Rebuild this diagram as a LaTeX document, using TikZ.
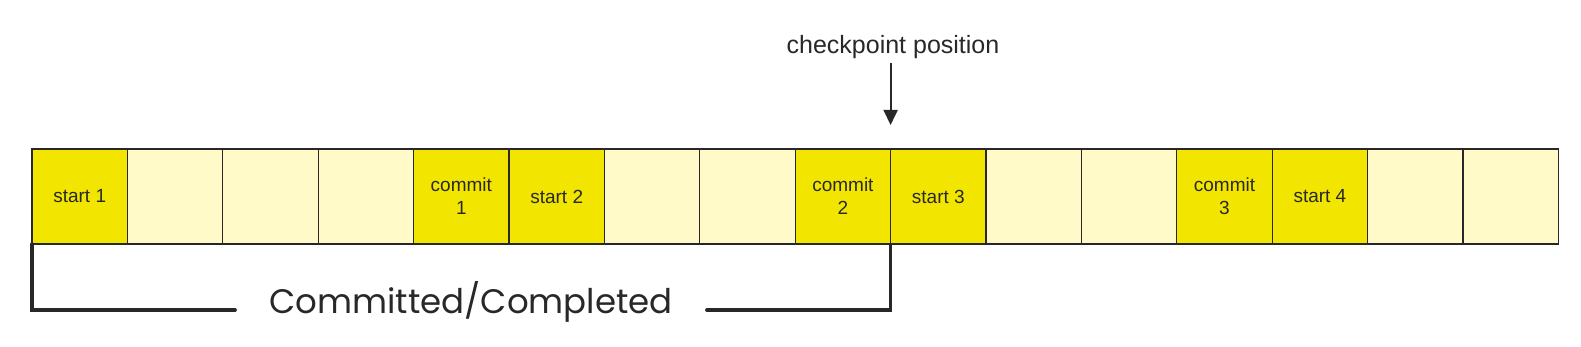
\documentclass[tikz,border=0pt]{standalone}
\usepackage{fontspec}
\setmainfont{Liberation Sans}
\newfontfamily\handfont{Poppins}
\usetikzlibrary{arrows.meta,positioning,calc}
\definecolor{slotyellow}{RGB}{242,230,0}
\definecolor{slotpale}{RGB}{255,250,200}
\definecolor{inkgray}{RGB}{40,40,40}
\tikzset{
  cell/.style={rectangle, draw=inkgray, line width=1.2pt, outer sep=0pt, inner sep=0pt,
    minimum width=95.4pt, minimum height=95pt, align=center,
    font=\fontsize{19}{23}\selectfont, text=inkgray},
  hotcell/.style={cell, fill=slotyellow},
  coldcell/.style={cell, fill=slotpale},
  pointer/.style={-{Triangle[length=15pt,width=14pt]}, line width=1.8pt, inkgray},
  bracket/.style={line width=3.5pt, inkgray, line cap=round},
}

\begin{document}
\begin{tikzpicture}[x=1pt, y=1pt]
  \useasboundingbox (0,0) rectangle (1581,346);

  % Log slots
  \foreach \i/\txt/\kind in {1/start 1/hotcell, 2//coldcell, 3//coldcell, 4//coldcell,
      5/commit\\1/hotcell, 6/start 2/hotcell, 7//coldcell, 8//coldcell,
      9/commit\\2/hotcell, 10/start 3/hotcell, 11//coldcell, 12//coldcell,
      13/commit\\3/hotcell, 14/start 4/hotcell, 15//coldcell, 16//coldcell} {
    \node[\kind] (c\i) at ({32+95.4*(\i-0.5)}, 149.5) {\txt};
  }

  % Checkpoint marker
  \node[font=\fontsize{25}{27}\selectfont, text=inkgray, inner sep=4pt] (ckpt) at (893,299) {checkpoint position};
  \coordinate (tip) at ([yshift=24pt]c9.north east);
  \draw[pointer] (ckpt.south -| tip) -- (tip);

  % Committed range
  \node[font=\handfont\fontsize{34}{36}\selectfont, text=inkgray, inner xsep=34pt] (done) at (471,44) {Committed/Completed};
  \draw[bracket] (c1.south west) |- ([yshift=-8pt]done.west);
  \draw[bracket] (c9.south east) |- ([yshift=-8pt]done.east);
\end{tikzpicture}
\end{document}
